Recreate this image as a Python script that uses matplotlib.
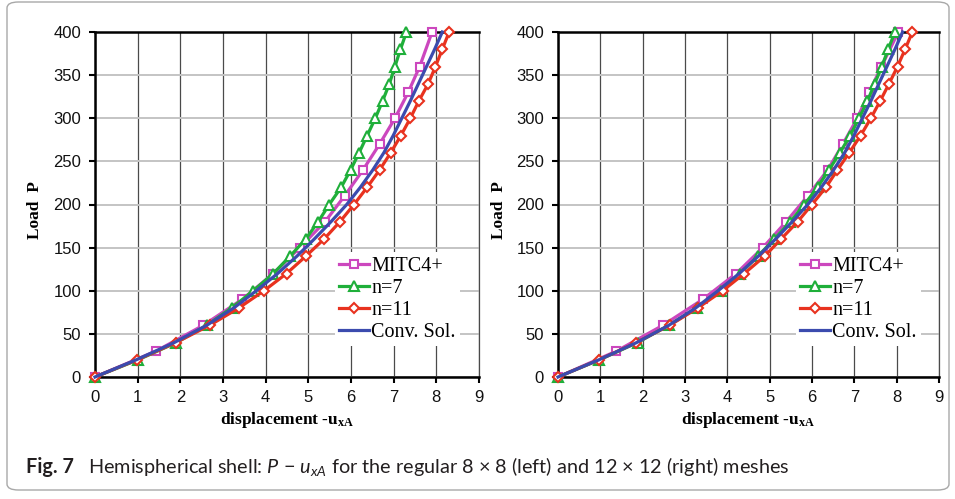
import matplotlib
matplotlib.use("Agg")
import matplotlib.pyplot as plt
from matplotlib.patches import FancyBboxPatch

plt.rcParams['font.family'] = ['Liberation Sans', 'DejaVu Sans']
plt.rcParams['mathtext.fontset'] = 'custom'
plt.rcParams['mathtext.it'] = 'Lato:italic'
plt.rcParams['mathtext.rm'] = 'Lato'
plt.rcParams['mathtext.bf'] = 'Liberation Serif:bold'

# ---------------- data ----------------
load_mitc = [0, 30, 60, 90, 120, 150, 180, 210, 240, 270, 300, 330, 360, 400]
load_20 = [0, 20, 40, 60, 80, 100, 120, 140, 160, 180, 200, 220, 240, 260, 280, 300,
           320, 340, 360, 380, 400]

# left: regular 8x8 mesh
left_mitc = [0, 1.43, 2.54, 3.45, 4.18, 4.80, 5.39, 5.85, 6.28, 6.67, 7.03, 7.34, 7.61, 7.90]
left_n7 = [0, 1.01, 1.91, 2.62, 3.20, 3.71, 4.18, 4.57, 4.94, 5.23, 5.49, 5.77, 5.99, 6.19,
           6.38, 6.57, 6.74, 6.90, 7.03, 7.16, 7.30]
left_n11 = [0, 0.99, 1.90, 2.69, 3.37, 3.96, 4.49, 4.94, 5.37, 5.74, 6.07, 6.38, 6.67, 6.93,
            7.17, 7.39, 7.59, 7.81, 7.98, 8.14, 8.30]

# right: regular 12x12 mesh
right_mitc = [0, 1.38, 2.48, 3.42, 4.21, 4.84, 5.39, 5.90, 6.37, 6.73, 7.07, 7.35, 7.64, 8.04]
right_n7 = [0, 0.98, 1.88, 2.62, 3.28, 3.85, 4.30, 4.72, 5.11, 5.49, 5.82, 6.13, 6.40, 6.66,
            6.90, 7.11, 7.31, 7.48, 7.65, 7.80, 7.96]
right_n11 = [0, 0.97, 1.85, 2.64, 3.30, 3.89, 4.40, 4.88, 5.27, 5.66, 6.00, 6.33, 6.60, 6.88,
             7.15, 7.39, 7.61, 7.82, 8.02, 8.20, 8.37]

# converged solution
conv = [0, 0.97, 1.86, 2.62, 3.25, 3.78, 4.28, 4.73, 5.14, 5.53, 5.90, 6.22, 6.51, 6.77,
        6.99, 7.19, 7.39, 7.58, 7.77, 7.96, 8.14]

series_names = ['MITC4+', 'n=7', 'n=11', 'Conv. Sol.']
x_ticks = list(range(0, 10))
y_ticks = list(range(0, 401, 50))
caption_bold = 'Fig. 7'
caption_text = r'Hemispherical shell: $P$ $-$ $u_{xA}$ for the regular 8 $\times$ 8 (left) and 12 $\times$ 12 (right) meshes'

C_MITC = '#CC47BE'
C_N7 = '#1FAF3A'
C_N11 = '#E8321F'
C_CONV = '#3B4BAE'

W, H = 955, 499
fig = plt.figure(figsize=(W / 100, H / 100), dpi=100)


def px_axes(x0, x1, y0, y1):
    return fig.add_axes([x0 / W, 1 - y1 / H, (x1 - x0) / W, (y1 - y0) / H])


def draw(ax, mitc, n7, n11):
    ax.plot(mitc, load_mitc, color=C_MITC, lw=2.3, marker='s', ms=6, mfc='white',
            mec=C_MITC, mew=1.5, clip_on=False, label=series_names[0], zorder=3)
    ax.plot(n7, load_20, color=C_N7, lw=2.3, marker='^', ms=6.5, mfc='white',
            mec=C_N7, mew=1.5, clip_on=False, label=series_names[1], zorder=3)
    ax.plot(n11, load_20, color=C_N11, lw=2.3, marker='D', ms=5.5, mfc='white',
            mec=C_N11, mew=1.5, clip_on=False, label=series_names[2], zorder=3)
    ax.plot(conv, load_20, color=C_CONV, lw=2.3, clip_on=False, label=series_names[3],
            zorder=3)
    ax.set_xlim(0, 9)
    ax.set_ylim(0, 400)
    ax.set_xticks(x_ticks)
    ax.set_yticks(y_ticks)
    ax.set_axisbelow(True)
    ax.xaxis.grid(True, color='#4a4a4a', lw=0.9)
    ax.yaxis.grid(True, color='#c4c4c4', lw=1.4)
    for s in ['left', 'bottom', 'top']:
        ax.spines[s].set_color('black')
        ax.spines[s].set_linewidth(1.8)
    ax.spines['right'].set_color('#4a4a4a')
    ax.spines['right'].set_linewidth(0.9)
    ax.tick_params(axis='both', direction='out', length=4, width=1.5, color='black',
                   labelsize=12, labelcolor='#111111')
    ax.tick_params(axis='x', pad=5)
    ax.tick_params(axis='y', pad=6)
    ax.set_xlabel(r'displacement -u$_{\mathbf{xA}}$', family='Liberation Serif',
                  fontweight='bold', fontsize=12.5)
    ax.xaxis.set_label_coords(0.5, -0.097)
    ax.set_ylabel('Load  P', family='Liberation Serif', fontweight='bold', fontsize=12.5)
    ax.yaxis.set_label_coords(-0.135, 0.484)
    leg = ax.legend(loc='lower left', bbox_to_anchor=(0.625, 0.09), frameon=True,
                    facecolor='white', edgecolor='none', framealpha=1,
                    prop={'family': 'Liberation Serif', 'size': 14.5},
                    handlelength=1.5, handletextpad=0.1, labelspacing=0.15,
                    borderpad=0.2, borderaxespad=0.0)
    leg.set_zorder(5)


axL = px_axes(95, 479, 32, 377)
draw(axL, left_mitc, left_n7, left_n11)
axR = px_axes(558, 939, 32, 377)
draw(axR, right_mitc, right_n7, right_n11)

# figure frame
frame = FancyBboxPatch((7 / W, 1 - 490 / H), 942 / W, 488 / H,
                       boxstyle='round,pad=0,rounding_size=0.012',
                       transform=fig.transFigure, fill=False, edgecolor='#a8a8a8', lw=1.0)
fig.patches.append(frame)

fig.text(26 / W, 1 - 467 / H, caption_bold, family='Lato', fontweight='bold',
         fontsize=14.3, va='center', ha='left', color='#231f20')
fig.text(88 / W, 1 - 467 / H, caption_text, family='Lato', fontsize=14.3,
         va='center', ha='left', color='#231f20')

fig.savefig('out.png', dpi=100)
